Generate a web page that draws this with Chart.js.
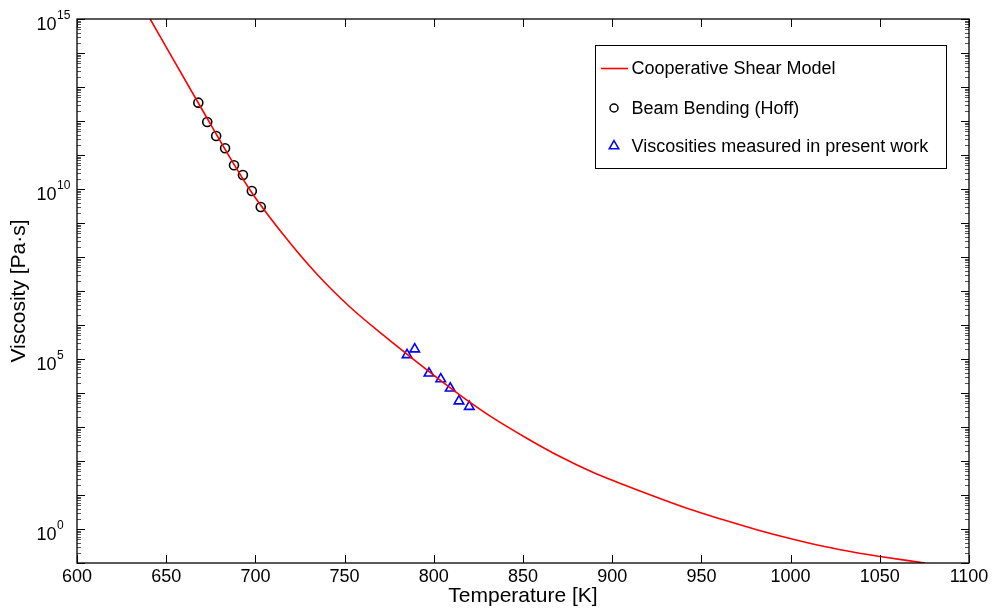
<!DOCTYPE html>
<html>
<head>
<meta charset="utf-8">
<script src="https://cdn.jsdelivr.net/npm/chart.js@4.4.0/dist/chart.umd.min.js"></script>
<style>
  html, body { margin: 0; padding: 0; background: #fff; }
  canvas { display: block; }
</style>
</head>
<body>
<canvas id="chart" width="993" height="609"></canvas>
<script>
// model curve, temperature [K] and log10 of viscosity [Pa s]
const curveT = [641, 668, 697, 715.6, 734.4, 753, 771.7, 786.7, 814.7, 833.4, 852.1, 870.7, 889.4, 908.1, 943.6, 962.3, 981, 999.7, 1018.3, 1037, 1050.1, 1075.3];
const curveLog = [15.0, 12.53, 9.97, 8.66, 7.50, 6.53, 5.70, 5.07, 3.94, 3.26, 2.67, 2.13, 1.66, 1.27, 0.58, 0.27, -0.02, -0.28, -0.51, -0.70, -0.81, -1.00];

// beam bending (Hoff)
const hoffT = [668, 673, 678, 683, 688, 693, 698, 703];
const hoffLog = [12.54, 11.97, 11.56, 11.20, 10.70, 10.41, 9.94, 9.47];

// present work
const presentT = [785, 789.3, 797.3, 803.9, 809.2, 814.1, 819.9];
const presentLog = [5.12, 5.29, 4.58, 4.41, 4.14, 3.76, 3.60];

const xTickValues = [600, 650, 700, 750, 800, 850, 900, 950, 1000, 1050, 1100];
const yLabelExps = [0, 5, 10, 15];

const FONT = "'Liberation Sans', Arial, Helvetica, sans-serif";

const toPoints = (xs, logs) => xs.map((t, i) => ({ x: t, y: Math.pow(10, logs[i]) }));

const line = (ctx, x1, y1, x2, y2) => {
    ctx.beginPath();
    ctx.moveTo(x1, y1);
    ctx.lineTo(x2, y2);
    ctx.stroke();
};

const drawMarker = (ctx, style, x, y, r, color) => {
    ctx.strokeStyle = color;
    ctx.lineWidth = 1.5;
    ctx.beginPath();
    if (style === 'circle') {
        ctx.arc(x, y, r, 0, Math.PI * 2);
    } else {
        // same geometry as chart.js 'triangle'
        ctx.moveTo(x, y - r);
        ctx.lineTo(x + r * Math.sin(2 * Math.PI / 3), y - r * Math.cos(2 * Math.PI / 3));
        ctx.lineTo(x + r * Math.sin(4 * Math.PI / 3), y - r * Math.cos(4 * Math.PI / 3));
        ctx.closePath();
    }
    ctx.stroke();
};

const framePlugin = {
    id: 'frame',
    afterDraw(chart) {
        const { ctx, chartArea: a, scales } = chart;
        const x = scales.x, y = scales.y;
        ctx.save();

        // x ticks, pointing inward on top and bottom
        ctx.strokeStyle = '#000';
        ctx.lineWidth = 1;
        xTickValues.forEach((v) => {
            const px = Math.round(x.getPixelForValue(v)) + 0.5;
            line(ctx, px, a.bottom, px, a.bottom - 8);
            line(ctx, px, a.top, px, a.top + 8);
        });

        // y ticks: decades long, minor ones short
        for (let e = -1; e <= 15; e++) {
            for (let k = 1; k <= 9; k++) {
                const v = k * Math.pow(10, e);
                if (v > 1e15) break;
                const py = Math.round(y.getPixelForValue(v)) + 0.5;
                const len = k === 1 ? 8 : 4;
                ctx.strokeStyle = k === 1 ? '#000' : '#555';
                line(ctx, a.left, py, a.left + len, py);
                line(ctx, a.right, py, a.right - len, py);
            }
        }

        // box
        ctx.strokeStyle = '#000';
        ctx.lineWidth = 1.3;
        ctx.strokeRect(a.left, a.top, a.right - a.left, a.bottom - a.top);

        // y labels 10^n
        ctx.fillStyle = '#000';
        ctx.textBaseline = 'alphabetic';
        ctx.textAlign = 'left';
        yLabelExps.forEach((e) => {
            const py = y.getPixelForValue(Math.pow(10, e));
            ctx.font = '18px ' + FONT;
            ctx.fillText('10', 36.5, py + 10.7);
            const w = ctx.measureText('10').width;
            ctx.font = '12px ' + FONT;
            ctx.fillText(String(e), 36.5 + w + 0.5, py - 0.5);
        });

        // legend
        const lx = 595, ly = 45, lw = 351, lh = 123;
        ctx.fillStyle = '#fff';
        ctx.fillRect(lx, ly, lw, lh);
        ctx.strokeStyle = '#000';
        ctx.lineWidth = 1;
        ctx.strokeRect(lx + 0.5, ly + 0.5, lw, lh);

        const rows = [69, 109, 147];
        const ds = chart.data.datasets;
        ctx.font = '18px ' + FONT;
        ctx.textBaseline = 'middle';
        ds.forEach((d, i) => {
            const ry = rows[i];
            if (d.showLine) {
                ctx.strokeStyle = d.borderColor;
                ctx.lineWidth = d.borderWidth;
                line(ctx, 601, ry - 0.5, 628, ry - 0.5);
            } else {
                drawMarker(ctx, d.pointStyle, 614, ry - 1, d.pointStyle === 'circle' ? 4 : 5.5, d.borderColor);
            }
            ctx.fillStyle = '#000';
            ctx.fillText(d.label, 631.5, ry);
        });

        ctx.restore();
    }
};

new Chart(document.getElementById('chart').getContext('2d'), {
    type: 'scatter',
    data: {
        datasets: [
            {
                label: 'Cooperative Shear Model',
                data: toPoints(curveT, curveLog),
                showLine: true,
                borderColor: '#ff0000',
                borderWidth: 1.6,
                pointRadius: 0,
                cubicInterpolationMode: 'monotone',
            },
            {
                label: 'Beam Bending (Hoff)',
                data: toPoints(hoffT, hoffLog),
                pointStyle: 'circle',
                pointRadius: 4.5,
                borderColor: '#000000',
                backgroundColor: 'rgba(0,0,0,0)',
                pointBorderWidth: 1.6,
            },
            {
                label: 'Viscosities measured in present work',
                data: toPoints(presentT, presentLog),
                pointStyle: 'triangle',
                pointRadius: 5.5,
                borderColor: '#0000ff',
                backgroundColor: 'rgba(0,0,0,0)',
                pointBorderWidth: 1.6,
            },
        ],
    },
    options: {
        responsive: false,
        animation: false,
        layout: { padding: { left: 3, top: 19, right: 24, bottom: 0 } },
        scales: {
            x: {
                type: 'linear',
                min: 600,
                max: 1100,
                afterFit: (s) => { s.height = 46; },
                afterBuildTicks: (s) => { s.ticks = xTickValues.map((v) => ({ value: v })); },
                grid: { display: false, drawTicks: false },
                border: { display: false },
                ticks: {
                    padding: 3,
                    color: '#000',
                    font: { family: FONT, size: 18 },
                    maxRotation: 0,
                    callback: (v) => String(v),
                },
                title: {
                    display: true,
                    text: 'Temperature [K]',
                    color: '#000',
                    font: { family: FONT, size: 21 },
                    padding: { top: 0, bottom: 0 },
                },
            },
            y: {
                type: 'logarithmic',
                min: 0.1,
                max: 1e15,
                afterFit: (s) => { s.width = 74; },
                grid: { display: false, drawTicks: false },
                border: { display: false },
                ticks: { display: false },
                title: {
                    display: true,
                    text: 'Viscosity [Pa·s]',
                    color: '#000',
                    font: { family: FONT, size: 21 },
                    padding: { top: 4, bottom: 0 },
                },
            },
        },
        plugins: {
            legend: { display: false },
            tooltip: { enabled: false },
        },
    },
    plugins: [framePlugin],
});
</script>
</body>
</html>
